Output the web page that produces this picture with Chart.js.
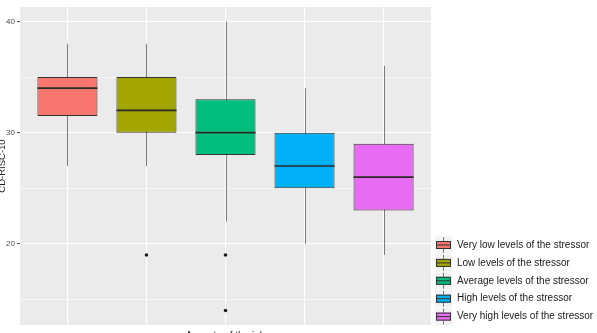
<!DOCTYPE html>
<html>
<head>
<meta charset="utf-8">
<script src="https://cdn.jsdelivr.net/npm/chart.js@4/dist/chart.umd.min.js"></script>
<style>
  html, body { margin: 0; padding: 0; background: #ffffff; }
  #wrap { width: 597px; height: 333px; }
</style>
</head>
<body>
<div id="wrap"><canvas id="c" width="597" height="333"></canvas></div>
<script>
// ---- Data ----
const categories = [
  "Very low levels of the stressor",
  "Low levels of the stressor",
  "Average levels of the stressor",
  "High levels of the stressor",
  "Very high levels of the stressor"
];
const whiskerLow  = [27, 27, 22, 20, 19];
const q1          = [31.5, 30, 28, 25, 23];
const medians     = [34, 32, 30, 27, 26];
const q3          = [35, 35, 33, 30, 29];
const whiskerHigh = [38, 38, 40, 34, 36];
const outlierCat  = [2, 3, 3];
const outlierVal  = [19, 19, 14];
const yMajorTicks = [20, 30, 40];
const yMinorTicks = [15, 25, 35];
const colors = ["#F8766D", "#A3A500", "#00BF7D", "#00B0F6", "#E76BF3"];
const yTitle = "CD-RISC-10";
const xTitle = "Aspects of the job";

const FONT = "'Liberation Sans', Arial, sans-serif";

const boxPlugin = {
  id: 'boxExtras',
  beforeDraw(chart) {
    const {ctx, chartArea: a} = chart;
    ctx.save();
    ctx.fillStyle = '#EBEBEB';
    ctx.fillRect(a.left, a.top, a.right - a.left, a.bottom - a.top);
    ctx.restore();
  },
  beforeDatasetsDraw(chart) {
    const {ctx} = chart;
    const xs = chart.scales.x, ys = chart.scales.y;
    ctx.save();
    ctx.strokeStyle = '#7a7a7a';
    ctx.lineWidth = 1;
    categories.forEach((c, i) => {
      const px = Math.round(xs.getPixelForValue(i + 1)) + 0.5;
      ctx.beginPath();
      ctx.moveTo(px, ys.getPixelForValue(whiskerLow[i]));
      ctx.lineTo(px, ys.getPixelForValue(whiskerHigh[i]));
      ctx.stroke();
    });
    ctx.restore();
  },
  afterDatasetsDraw(chart) {
    const {ctx} = chart;
    const ys = chart.scales.y;
    const meta = chart.getDatasetMeta(0);
    ctx.save();
    ctx.strokeStyle = '#2b2b2b';
    ctx.lineWidth = 1.6;
    meta.data.forEach((bar, i) => {
      const w = bar.width;
      const py = ys.getPixelForValue(medians[i]);
      ctx.beginPath();
      ctx.moveTo(bar.x - w / 2, py);
      ctx.lineTo(bar.x + w / 2, py);
      ctx.stroke();
    });
    ctx.restore();
  },
  afterDraw(chart) {
    const {ctx, chartArea: a} = chart;
    ctx.save();
    // y axis title (partly clipped, as in the reference)
    ctx.fillStyle = '#1a1a1a';
    ctx.font = '9.5px ' + FONT;
    ctx.translate(5, (a.top + a.bottom) / 2);
    ctx.rotate(-Math.PI / 2);
    ctx.textAlign = 'center';
    ctx.textBaseline = 'alphabetic';
    ctx.fillText(yTitle, 0, 0);
    ctx.restore();

    ctx.save();
    ctx.fillStyle = '#1a1a1a';
    ctx.font = '10px ' + FONT;
    ctx.textAlign = 'center';
    ctx.textBaseline = 'alphabetic';
    ctx.fillText(xTitle, (a.left + a.right) / 2, 338.5);
    ctx.restore();

    // legend
    ctx.save();
    const keyX = 435, keyW = 17, rowH = 17.9, firstY = 245;
    categories.forEach((c, i) => {
      const cy = firstY + i * rowH;
      ctx.fillStyle = '#F2F2F2';
      ctx.fillRect(keyX, cy - 8.5, keyW, 17);
      ctx.strokeStyle = '#7a7a7a';
      ctx.lineWidth = 1;
      ctx.beginPath();
      ctx.moveTo(keyX + keyW / 2, cy - 8);
      ctx.lineTo(keyX + keyW / 2, cy + 8);
      ctx.stroke();
      ctx.fillStyle = colors[i];
      ctx.fillRect(keyX + 1, cy - 4, keyW - 2, 8);
      ctx.strokeStyle = '#333333';
      ctx.strokeRect(keyX + 1.5, cy - 3.5, keyW - 3, 7);
      ctx.beginPath();
      ctx.moveTo(keyX + 1.5, cy);
      ctx.lineTo(keyX + keyW - 1.5, cy);
      ctx.stroke();
      ctx.fillStyle = '#1a1a1a';
      ctx.font = '10px ' + FONT;
      ctx.textAlign = 'left';
      ctx.textBaseline = 'middle';
      ctx.fillText(c, 457, cy);
    });
    ctx.restore();
  }
};

new Chart(document.getElementById('c'), {
  data: {
    datasets: [
      {
        type: 'bar',
        data: categories.map((c, i) => ({x: i + 1, y: [q1[i], q3[i]]})),
        backgroundColor: colors,
        borderColor: '#333333',
        borderWidth: 1,
        borderSkipped: false,
        barPercentage: 0.76,
        categoryPercentage: 1,
        order: 2
      },
      {
        type: 'scatter',
        data: outlierCat.map((c, i) => ({x: c, y: outlierVal[i]})),
        pointRadius: 1.8,
        pointBackgroundColor: '#1a1a1a',
        pointBorderWidth: 0,
        order: 1
      }
    ]
  },
  options: {
    responsive: false,
    animation: false,
    layout: { padding: { top: 7, right: 166, left: 0, bottom: 0 } },
    plugins: { legend: { display: false }, tooltip: { enabled: false } },
    scales: {
      x: {
        type: 'linear',
        min: 0.4,
        max: 5.6,
        offset: false,
        afterBuildTicks: (s) => { s.ticks = categories.map((c, i) => ({value: i + 1})); },
        afterFit: (s) => { s.height = 8; },
        ticks: { display: false },
        grid: { color: '#ffffff', lineWidth: 1.1, drawTicks: false, offset: false },
        border: { display: false }
      },
      y: {
        type: 'linear',
        min: 12.7,
        max: 41.3,
        afterBuildTicks: (s) => {
          s.ticks = yMinorTicks.concat(yMajorTicks).sort((a, b) => a - b).map(v => ({value: v}));
        },
        afterFit: (s) => { s.width = 20; },
        ticks: {
          color: '#4D4D4D',
          font: { size: 8, family: FONT },
          padding: 2,
          callback: (v) => yMajorTicks.includes(v) ? String(v) : ''
        },
        grid: {
          color: '#ffffff',
          lineWidth: (ctx) => yMajorTicks.includes(ctx.tick && ctx.tick.value) ? 1.1 : 0.55,
          tickLength: 3,
          tickColor: (ctx) => yMajorTicks.includes(ctx.tick && ctx.tick.value) ? '#555555' : 'rgba(0,0,0,0)'
        },
        border: { display: false }
      }
    }
  },
  plugins: [boxPlugin]
});
</script>
</body>
</html>
